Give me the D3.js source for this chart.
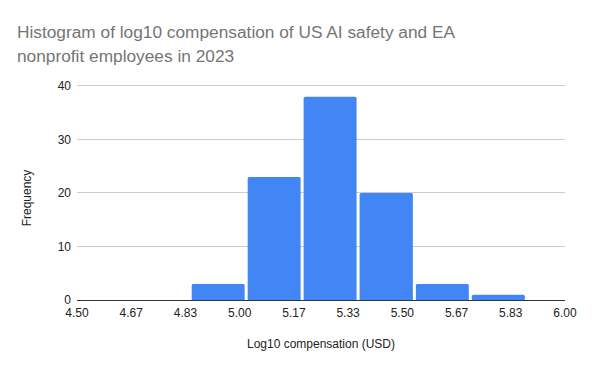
<!DOCTYPE html>
<html>
<head>
<meta charset="utf-8">
<script src="https://cdn.jsdelivr.net/npm/d3@7"></script>
<style>
  body { margin: 0; background: #fff; }
  text { font-family: "Liberation Sans", Arial, sans-serif; }
</style>
</head>
<body>
<div id="chart"></div>
<script>
// bin edges (log10 USD, as placed on the axis) and counts
var binEdges = [4.848, 5.020, 5.192, 5.364, 5.537, 5.709, 5.881];
var counts = [3, 23, 38, 20, 3, 1];
var xTicks = [4.5, 4.6667, 4.8333, 5.0, 5.1667, 5.3333, 5.5, 5.6667, 5.8333, 6.0];
var xTickLabels = ["4.50", "4.67", "4.83", "5.00", "5.17", "5.33", "5.50", "5.67", "5.83", "6.00"];
var yTicks = [0, 10, 20, 30, 40];

var width = 600, height = 371;
var plotLeft = 77, plotRight = 565, plotTop = 86, plotBottom = 300;

var svg = d3.select("#chart").append("svg")
  .attr("width", width)
  .attr("height", height);

var xscale = d3.scaleLinear().domain([4.5, 6.0]).range([plotLeft, plotRight]);
var yscale = d3.scaleLinear().domain([0, 40]).range([plotBottom, plotTop]);

// title
svg.append("text")
  .attr("x", 17).attr("y", 38)
  .attr("font-size", 17.3)
  .attr("fill", "#757575")
  .text("Histogram of log10 compensation of US AI safety and EA");
svg.append("text")
  .attr("x", 17).attr("y", 62)
  .attr("font-size", 17.3)
  .attr("fill", "#757575")
  .text("nonprofit employees in 2023");

// gridlines
svg.append("g")
  .selectAll("line")
  .data(yTicks.filter(function (d) { return d > 0; }))
  .enter().append("line")
  .attr("x1", plotLeft).attr("x2", plotRight)
  .attr("y1", function (d) { return Math.round(yscale(d)) - 0.5; })
  .attr("y2", function (d) { return Math.round(yscale(d)) - 0.5; })
  .attr("stroke", "#cccccc")
  .attr("stroke-width", 1);

// y tick labels
svg.append("g")
  .selectAll("text")
  .data(yTicks)
  .enter().append("text")
  .attr("x", plotLeft - 6)
  .attr("y", function (d) { return yscale(d) + 4; })
  .attr("text-anchor", "end")
  .attr("font-size", 12)
  .attr("fill", "#222")
  .text(function (d) { return d; });

// bars
svg.append("g")
  .selectAll("rect")
  .data(counts)
  .enter().append("rect")
  .attr("x", function (d, i) { return xscale(binEdges[i]) + 1.5; })
  .attr("width", function (d, i) { return xscale(binEdges[i + 1]) - xscale(binEdges[i]) - 3; })
  .attr("y", function (d) { return yscale(d); })
  .attr("height", function (d) { return yscale(0) - yscale(d) + 1; })
  .attr("rx", 1.5)
  .attr("fill", "#4285f4");

// baseline
svg.append("line")
  .attr("x1", plotLeft).attr("x2", plotRight)
  .attr("y1", plotBottom + 0.5).attr("y2", plotBottom + 0.5)
  .attr("stroke", "#333")
  .attr("stroke-width", 1);

// x tick labels
svg.append("g")
  .selectAll("text")
  .data(xTicks)
  .enter().append("text")
  .attr("x", function (d) { return xscale(d); })
  .attr("y", plotBottom + 17)
  .attr("text-anchor", "middle")
  .attr("font-size", 12)
  .attr("fill", "#222")
  .text(function (d, i) { return xTickLabels[i]; });

// axis labels
svg.append("text")
  .attr("x", (plotLeft + plotRight) / 2)
  .attr("y", 348)
  .attr("text-anchor", "middle")
  .attr("font-size", 12)
  .attr("fill", "#222")
  .text("Log10 compensation (USD)");

svg.append("text")
  .attr("transform", "translate(31,198) rotate(-90)")
  .attr("text-anchor", "middle")
  .attr("font-size", 12)
  .attr("fill", "#222")
  .text("Frequency");
</script>
</body>
</html>
